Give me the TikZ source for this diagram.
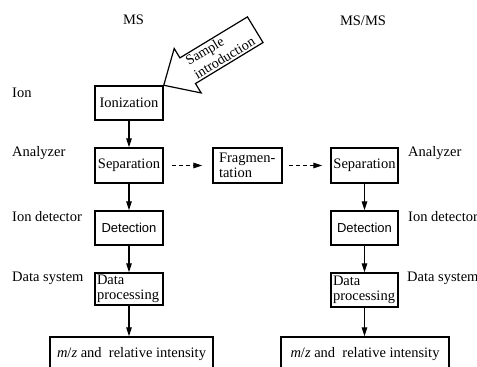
\documentclass[tikz,border=0pt]{standalone}
\usepackage{fontspec}
\setmainfont{Liberation Serif}
\newfontfamily\gothic{Liberation Sans}
\usetikzlibrary{arrows.meta}
\begin{document}
\begin{tikzpicture}[x=1pt,y=-1pt,
  box/.style={draw, line width=1.5pt, inner sep=0pt, font=\fontsize{14.5}{15.5}\selectfont},
  lbl/.style={anchor=west, inner sep=0pt, font=\fontsize{14.5}{16}\selectfont},
  ttl/.style={inner sep=0pt, font=\fontsize{14.5}{16}\selectfont},
  flow/.style={line width=1.3pt, -{Triangle[length=9pt,width=5.5pt]}},
  dflow/.style={flow, dash pattern=on 4pt off 3pt}]
\useasboundingbox (0,0) rectangle (477,367);
\clip (0,0) rectangle (477,367);

% titles
\node[ttl] (ms) at (133.5,20) {MS};
\node[ttl] (msms) at (363,21) {MS/MS};

% left labels
\node[lbl] (l1) at (12,93) {Ion};
\node[lbl] (l2) at (12,153) {Analyzer};
\node[lbl] (l3) at (12,217) {Ion detector};
\node[lbl] (l4) at (12,278) {Data system};
% right labels
\node[lbl] (r2) at (408,153) {Analyzer};
\node[lbl] (r3) at (408,217) {Ion detector};
\node[lbl] (r4) at (407,278) {Data system};

% left column
\node[box, minimum width=68pt, minimum height=34pt] (ion) at (129,103) {Ionization};
\node[box, minimum width=68pt, minimum height=35pt] (sepL) at (129,165.5) {Separation};
\node[box, minimum width=68pt, minimum height=34pt, font=\gothic\fontsize{13}{15}\selectfont] (detL) at (129,228) {Detection};
\node[box, minimum width=68pt, minimum height=32pt, text width=64pt, align=left, inner xsep=2pt] (dpL) at (129,289) {Data\\processing};
\node[box, minimum width=163pt, minimum height=34pt] (resL) at (131.5,354) {\textit{m}/\textit{z} and\ \ relative intensity};

% fragmentation
\node[box, minimum width=69pt, minimum height=35pt, text width=57pt, align=left, inner xsep=6pt] (frag) at (247.5,165.5) {Fragmen-\\tation};

% right column
\node[box, minimum width=67pt, minimum height=35pt] (sepR) at (364.5,165.5) {Separation};
\node[box, minimum width=67pt, minimum height=34pt, font=\gothic\fontsize{13}{15}\selectfont] (detR) at (364.5,228) {Detection};
\node[box, minimum width=67pt, minimum height=34pt, text width=63pt, align=left, inner xsep=2pt] (dpR) at (364.5,290) {Data\\processing};
\node[box, minimum width=168pt, minimum height=34pt] (resR) at (365,354) {\textit{m}/\textit{z} and\ \ relative intensity};

% connectors
\draw[flow] (ion) -- (sepL);
\draw[flow] (sepL) -- (detL);
\draw[flow] (detL) -- (dpL);
\draw[flow] (dpL) -- (dpL.south |- resL.north);
\draw[flow] (sepR) -- (detR);
\draw[flow] (detR) -- (dpR);
\draw[flow] (dpR) -- (dpR.south |- resR.north);
\draw[dflow, shorten <=8pt, shorten >=10pt] (sepL) -- (frag);
\draw[dflow, shorten <=6pt, shorten >=8pt] (frag) -- (sepR);

% sample introduction block arrow
\begin{scope}[shift={(ion.north east)}]
\draw[line width=1.2pt, line join=miter, fill=white]
  (0,0) -- (10.45,-36.76) -- (16.15,-27.36) -- (83.70,-68.36) -- (99.28,-42.70)
  -- (31.73,-1.70) -- (37.43,7.70) -- cycle;
\node[rotate=31.2, align=left, inner sep=0pt, font=\fontsize{14}{16}\selectfont] (sample) at (56.4,-34.3) {Sample\\introduction};
\end{scope}
\end{tikzpicture}
\end{document}
